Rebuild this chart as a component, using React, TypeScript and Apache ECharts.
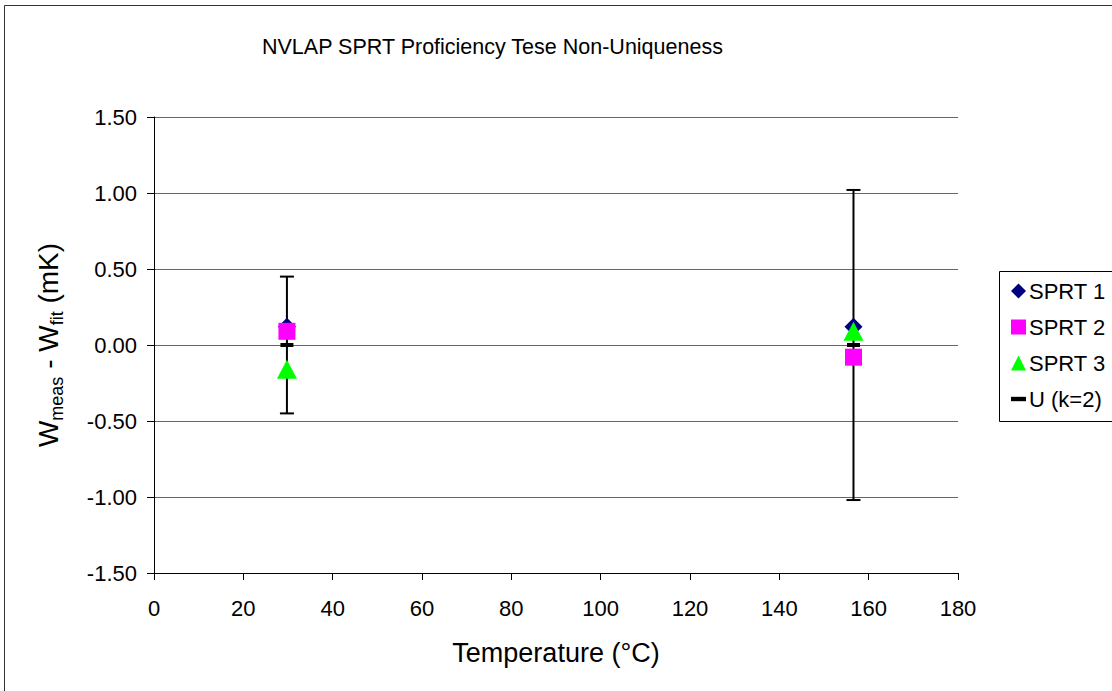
import React, { useEffect, useRef } from "react";
import * as echarts from "echarts";

const xTemps = [29.76, 156.6];
const sprt1 = [0.12, 0.12];
const sprt2 = [0.09, -0.08];
const sprt3 = [-0.16, 0.09];
const uCenter = [0, 0];
const uHalf = [0.45, 1.02];
const xTicks = [0, 20, 40, 60, 80, 100, 120, 140, 160, 180];
const yTicks = [-1.5, -1.0, -0.5, 0, 0.5, 1.0, 1.5];
const legendNames = ["SPRT 1", "SPRT 2", "SPRT 3", "U (k=2)"];

const FONT = "Liberation Sans, Arial, sans-serif";

export default function App() {
  const ref = useRef<HTMLDivElement>(null);
  useEffect(() => {
    document.body.style.margin = "0";
    if (!ref.current) return;
    const chart = echarts.init(ref.current, null, { renderer: "svg" });
    const pairs = (ys: number[]) => xTemps.map((x, i) => [x, ys[i]]);
    const errData = xTemps.map((x, i) => [x, uCenter[i] - uHalf[i], uCenter[i] + uHalf[i]]);
    chart.setOption({
      animation: false,
      backgroundColor: "#ffffff",
      textStyle: { fontFamily: FONT },
      title: {
        text: "NVLAP SPRT Proficiency Tese Non-Uniqueness",
        left: 257,
        top: 31,
        textStyle: { fontFamily: FONT, fontSize: 21.5, fontWeight: "normal", color: "#000" },
      },
      graphic: [
        {
          type: "rect",
          shape: { x: 4.5, y: 5.5, width: 1130, height: 710 },
          style: { fill: "none", stroke: "#333", lineWidth: 1 },
          silent: true,
          z: -10,
        },
        {
          type: "rect",
          shape: { x: 999.5, y: 271.5, width: 130, height: 150 },
          style: { fill: "#fff", stroke: "#000", lineWidth: 1 },
          silent: true,
          z: 1,
        },
      ],
      legend: {
        orient: "vertical",
        left: 1006,
        top: 275,
        itemGap: 14,
        itemWidth: 15,
        itemHeight: 15,
        z: 5,
        textStyle: { fontFamily: FONT, fontSize: 22, color: "#000", padding: [0, 0, 0, -2] },
        data: [
          { name: legendNames[0], icon: "diamond" },
          { name: legendNames[1], icon: "rect" },
          { name: legendNames[2], icon: "triangle" },
          { name: legendNames[3], icon: "path://M0,0h12v3.5H0z" },
        ],
      },
      grid: { left: 154, right: 154, top: 117, bottom: 118 },
      xAxis: {
        type: "value",
        min: xTicks[0],
        max: xTicks[xTicks.length - 1],
        interval: 20,
        name: "Temperature (°C)",
        nameLocation: "middle",
        nameGap: 66,
        nameTextStyle: { fontFamily: FONT, fontSize: 27, color: "#000" },
        axisLine: { onZero: false, lineStyle: { color: "#000", width: 1 } },
        axisTick: { show: true, inside: false, length: 7, lineStyle: { color: "#000" } },
        axisLabel: { fontFamily: FONT, fontSize: 22, color: "#000", margin: 24 },
        splitLine: { show: false },
      },
      yAxis: {
        type: "value",
        min: yTicks[0],
        max: yTicks[yTicks.length - 1],
        interval: 0.5,
        name: "{n|W}{s|meas}{n| - W}{s|fit}{n| (mK)}",
        nameLocation: "middle",
        nameGap: 92,
        nameTextStyle: {
          fontFamily: FONT,
          color: "#000",
          rich: {
            n: { fontFamily: FONT, fontSize: 28, color: "#000", lineHeight: 34, verticalAlign: "bottom" },
            s: { fontFamily: FONT, fontSize: 18, color: "#000", lineHeight: 34, verticalAlign: "bottom", padding: [0, 0, -4, 0] },
          },
        },
        axisLine: { show: true, lineStyle: { color: "#000", width: 1 } },
        axisTick: { show: true, inside: false, length: 7, lineStyle: { color: "#000" } },
        axisLabel: {
          fontFamily: FONT,
          fontSize: 22,
          color: "#000",
          margin: 17,
          formatter: (v: number) => v.toFixed(2),
        },
        splitLine: { show: true, lineStyle: { color: "#666", width: 1 } },
      },
      series: [
        {
          name: "err",
          type: "custom",
          z: 2,
          renderItem: (params: any, api: any) => {
            const x = api.value(0);
            const lo = api.coord([x, api.value(1)]);
            const hi = api.coord([x, api.value(2)]);
            const cap = 7;
            const st = { stroke: "#000", lineWidth: 2 };
            return {
              type: "group",
              children: [
                { type: "line", shape: { x1: lo[0], y1: lo[1], x2: hi[0], y2: hi[1] }, style: st },
                { type: "line", shape: { x1: hi[0] - cap, y1: hi[1], x2: hi[0] + cap, y2: hi[1] }, style: st },
                { type: "line", shape: { x1: lo[0] - cap, y1: lo[1], x2: lo[0] + cap, y2: lo[1] }, style: st },
              ],
            };
          },
          encode: { x: 0, y: [1, 2] },
          data: errData,
        },
        {
          name: "SPRT 1",
          type: "scatter",
          symbol: "diamond",
          symbolSize: [18, 18],
          itemStyle: { color: "#000080", opacity: 1 },
          z: 3,
          data: pairs(sprt1),
        },
        {
          name: "SPRT 2",
          type: "scatter",
          symbol: "rect",
          symbolSize: [17, 17],
          itemStyle: { color: "#FF00FF", opacity: 1 },
          z: 4,
          data: pairs(sprt2),
        },
        {
          name: "SPRT 3",
          type: "scatter",
          symbol: "triangle",
          symbolSize: [20, 19],
          itemStyle: { color: "#00FF00", opacity: 1 },
          z: 5,
          data: pairs(sprt3),
        },
        {
          name: "U (k=2)",
          type: "scatter",
          symbol: "rect",
          symbolSize: [13, 4],
          itemStyle: { color: "#000", opacity: 1 },
          z: 6,
          data: pairs(uCenter),
        },
      ],
    });
    return () => chart.dispose();
  }, []);
  return <div ref={ref} style={{ width: 1112, height: 691 }} />;
}
